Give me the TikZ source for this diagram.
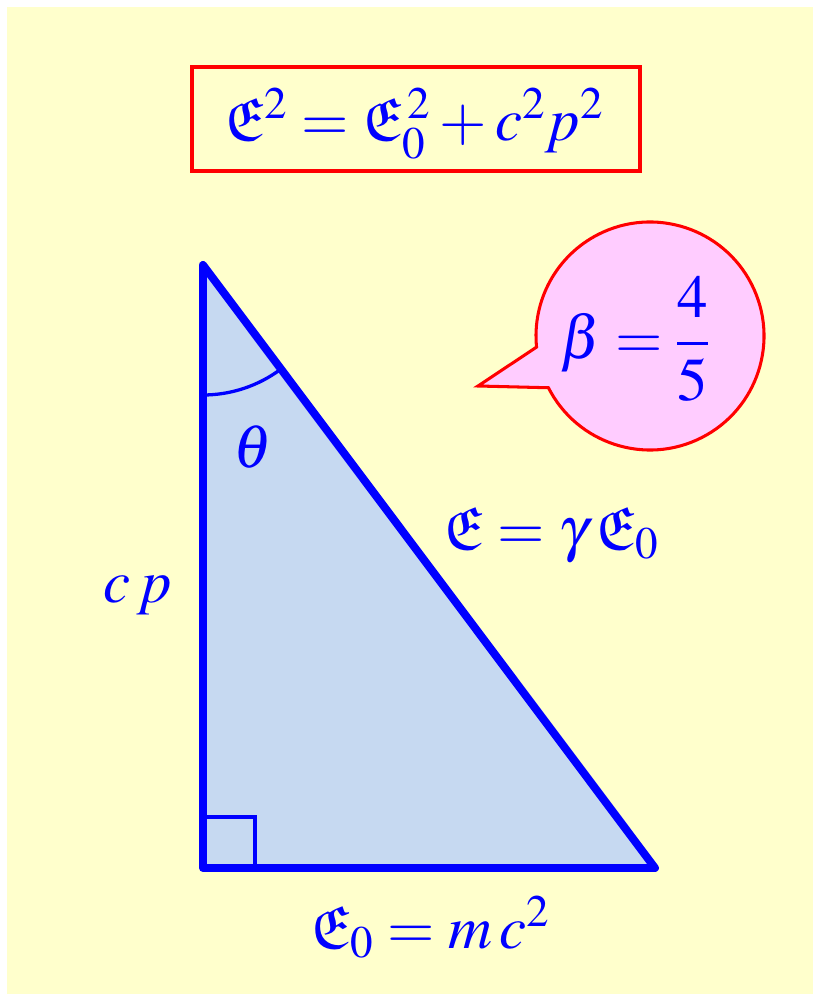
\documentclass[tikz,border=0pt]{standalone}
\usepackage{amsmath, amssymb}
\usepackage{mathptmx}
\usepackage{tikz}
\usetikzlibrary{positioning, calc}
\definecolor{paper}{HTML}{FFFFCC}
\definecolor{skyfill}{HTML}{C6D9F1}
\definecolor{pinkfill}{HTML}{FFCCFF}

\begin{document}
\begin{tikzpicture}[x=0.03cm, y=0.03cm,
    lbl/.style={text=blue, inner sep=0pt, font=\fontsize{52}{62}\selectfont},
    leg/.style={draw=blue, line width=6.8pt, line join=round, line cap=round}]
    \useasboundingbox (0,0) rectangle (813,994);
    \fill[paper] (7,0) rectangle (813,987);

    % formula box
    \draw[red, line width=2.6pt] (192,823) rectangle (640,927);
    \node[lbl] (energy) at (414,870) {$\mathfrak{E}^2 = \mathfrak{E}_0^{\,2} + c^2 p^2$};

    % triangle
    \coordinate (A) at (203,729);
    \coordinate (B) at (203,126);
    \coordinate (C) at (655,126);
    \fill[skyfill] (A) -- (B) -- (C) -- cycle;
    \draw[blue, line width=3.4pt] (B) rectangle ++(52,51);
    \draw[blue, line width=2.8pt] ($(A)+(0,-130)$) arc[start angle=270, end angle=306.9, radius=3.9cm];
    \draw[leg] (A) -- (B) -- (C) -- cycle;

    \node[lbl] (theta) at (253,547) {$\theta$};
    \node[lbl] (mom) at (138,399) {$c\,p$};
    \node[lbl] (total) at (551,459) {$\mathfrak{E} = \gamma\,\mathfrak{E}_0$};
    \node[lbl] (rest) at (430,67) {$\mathfrak{E}_0 = m\,c^2$};

    % speech bubble
    \coordinate (ctr) at (650,658);
    \coordinate (tip) at (478,608);
    \filldraw[draw=red, fill=pinkfill, line width=2.6pt, line join=miter]
        (tip) -- ($(ctr)+(207:3.42cm)$) arc[start angle=207, end angle=545.6, radius=3.42cm] -- cycle;
    \node[lbl] (beta) at (635,655) {$\beta = \dfrac{4}{5}$};
\end{tikzpicture}
\end{document}
